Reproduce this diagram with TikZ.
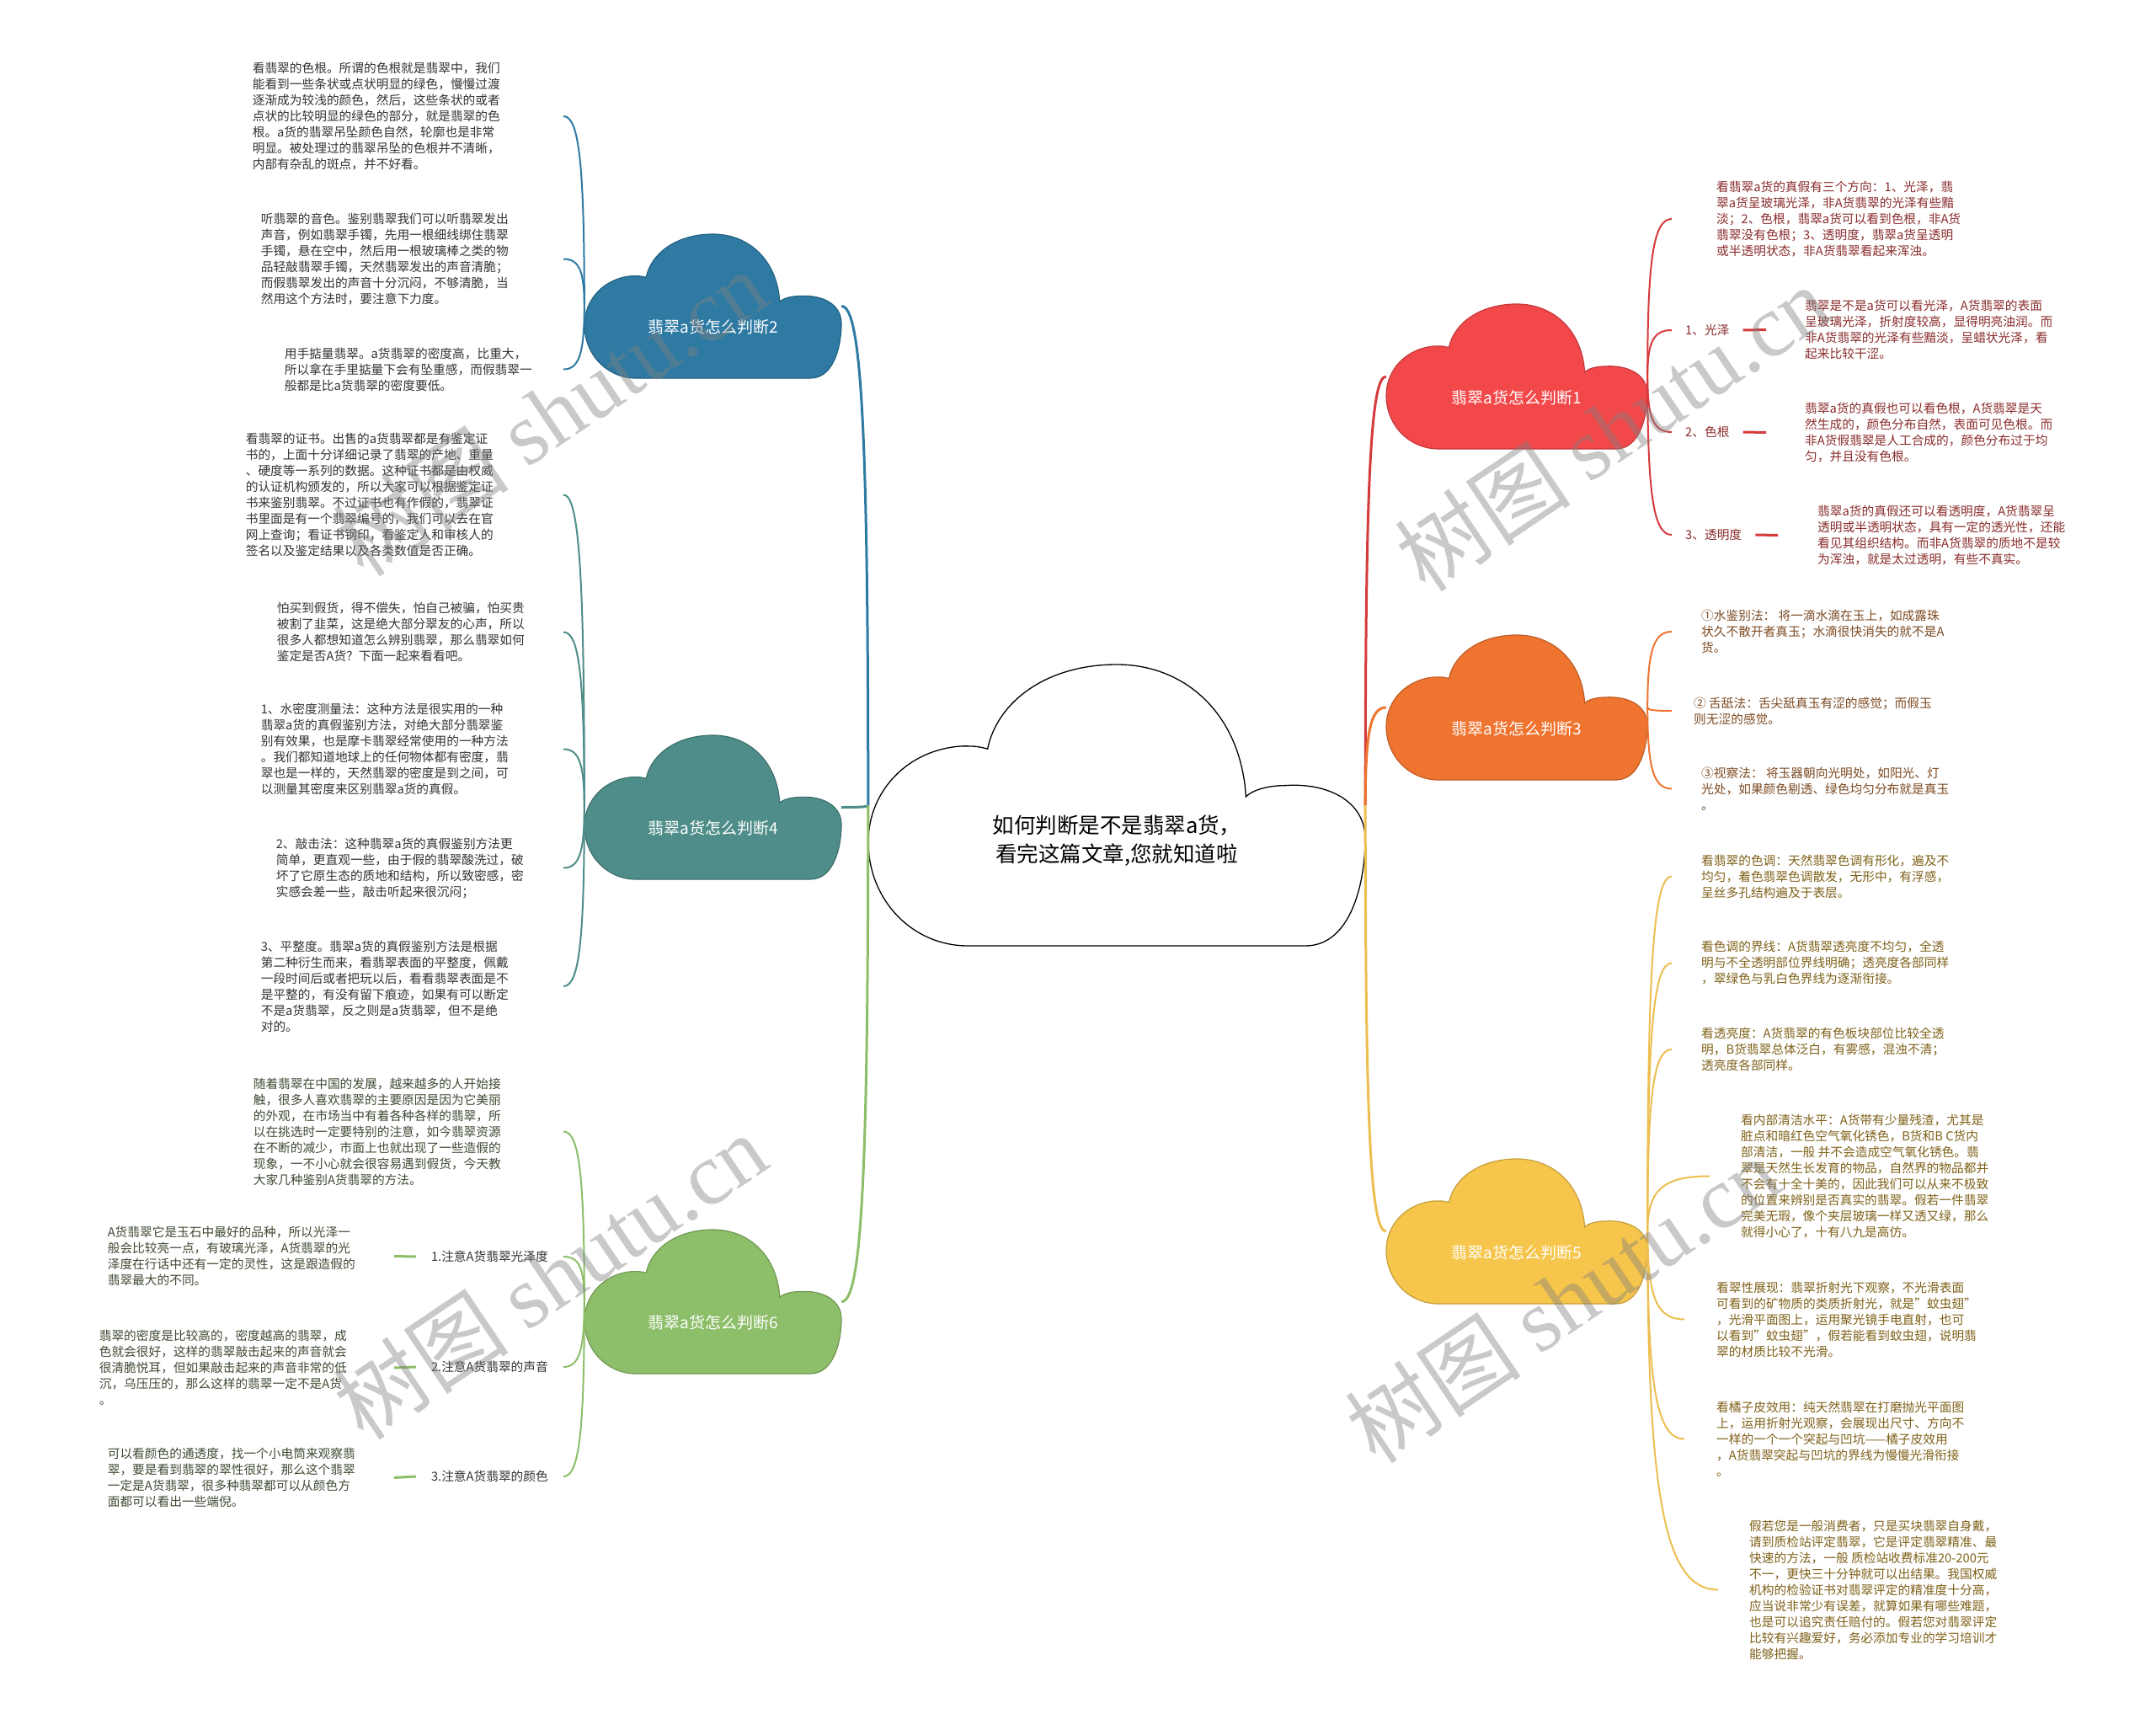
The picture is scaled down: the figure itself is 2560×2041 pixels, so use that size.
\documentclass[tikz,border=0pt]{standalone}
\usepackage{fontspec}
\setmainfont{Noto Sans CJK SC}
\newfontfamily\wmlatin{Liberation Serif}
\usetikzlibrary{calc}

\definecolor{blueC}{HTML}{2E7AA3}
\definecolor{tealC}{HTML}{4E8D89}
\definecolor{greenC}{HTML}{8DBE69}
\definecolor{redC}{HTML}{F2484A}
\definecolor{redL}{HTML}{D53A3C}
\definecolor{orangeC}{HTML}{EF7430}
\definecolor{yellowC}{HTML}{F6C54B}
\definecolor{yellowL}{HTML}{EDBE50}
\definecolor{darkT}{HTML}{333333}
\definecolor{greenT}{HTML}{3F4A33}
\definecolor{redT}{HTML}{8A2C2C}
\definecolor{orangeT}{HTML}{7C4A22}
\definecolor{yellowT}{HTML}{7F6119}

% cloud outline, drawn in a unit box: x0, y0 (top left), width, height, style
\newcommand\cloudpath[5]{%
  \path[#5,shift={(#1,#2)},xscale=#3,yscale=#4]
    (0.20,1) -- (0.88,1) .. controls (0.97,1) and (1,0.78) .. (1,0.62)
    .. controls (1,0.48) and (0.92,0.42) .. (0.84,0.43)
    .. controls (0.80,0.43) and (0.77,0.45) .. (0.76,0.47)
    .. controls (0.75,0.18) and (0.64,0) .. (0.50,0)
    .. controls (0.36,0) and (0.26,0.13) .. (0.24,0.30)
    .. controls (0.22,0.29) and (0.21,0.29) .. (0.19,0.29)
    .. controls (0.08,0.30) and (0,0.45) .. (0,0.63)
    .. controls (0,0.84) and (0.09,1) .. (0.20,1) -- cycle;}

\tikzset{
  cloud/.style={fill=#1,draw=#1!80!black,line width=1.2pt},
  frame/.style 2 args={inner sep=0pt,minimum width=#1pt,minimum height=#2pt},
  cloudtext/.style={text=white,font=\fontsize{19}{22}\selectfont},
  leaf/.style={inner sep=0pt,align=left,font=\fontsize{14.7}{19}\selectfont},
  leafL/.style={leaf,anchor=east},
  leafR/.style={leaf,anchor=west},
  trunk/.style={draw=#1,line width=3pt},
  twig/.style={draw=#1,line width=2pt},
  dashbar/.style={draw=#1,line width=3pt},
  elbow/.style={to path={.. controls ($(\tikztostart)!0.75!(\tikztostart|-\tikztotarget)$)
      and ($(\tikztotarget)!0.75!(\tikztostart|-\tikztotarget)$) .. (\tikztotarget)}},
  wm/.style={rotate=34,text=black!50,opacity=0.42,font=\fontsize{105}{110}\selectfont},
}

\begin{document}
\begin{tikzpicture}[x=1pt,y=-1pt]
  \useasboundingbox (0,0) rectangle (2560,2041);
  \fill[white] (0,0) rectangle (2560,2041);

  % centre cloud
  \cloudpath{1031}{789}{590}{334}{fill=white,draw=black,line width=1.3pt}
  \node[frame={590}{334}] (root) at (1326,956) {};
  \node[align=center,font=\fontsize{25.5}{34}\selectfont] at ([yshift=-42pt]root.center)
       {如何判断是不是翡翠a货，\\看完这篇文章,您就知道啦};

  % main clouds, left
  \cloudpath{694}{278}{305}{171}{cloud=blueC}
  \node[frame={305}{171}] (c2) at (846.5,363.5) {};
  \cloudpath{694}{873}{305}{171}{cloud=tealC}
  \node[frame={305}{171}] (c4) at (846.5,958.5) {};
  \cloudpath{694}{1460}{305}{171}{cloud=greenC}
  \node[frame={305}{171}] (c6) at (846.5,1545.5) {};
  % main clouds, right
  \cloudpath{1646}{361}{310}{172}{cloud=redC}
  \node[frame={310}{172}] (c1) at (1801,447) {};
  \cloudpath{1646}{754}{310}{172}{cloud=orangeC}
  \node[frame={310}{172}] (c3) at (1801,840) {};
  \cloudpath{1646}{1376}{310}{172}{cloud=yellowC}
  \node[frame={310}{172}] (c5) at (1801,1462) {};
  \foreach \c/\k in {c1/1,c2/2,c3/3,c4/4,c5/5,c6/6}{
    \node[cloudtext] at ([yshift=-25pt]\c.center) {翡翠a货怎么判断\k};
  }

  % branch 2
  \node[leafL,text=darkT,text width=369pt] (a1) at (669,138) {看翡翠的色根。所谓的色根就是翡翠中，我们\\能看到一些条状或点状明显的绿色，慢慢过渡\\逐渐成为较浅的颜色，然后，这些条状的或者\\点状的比较明显的绿色的部分，就是翡翠的色\\根。a货的翡翠吊坠颜色自然，轮廓也是非常\\明显。被处理过的翡翠吊坠的色根并不清晰，\\内部有杂乱的斑点，并不好看。};
  \node[leafL,text=darkT,text width=359pt] (a2) at (669,307.5) {听翡翠的音色。鉴别翡翠我们可以听翡翠发出\\声音，例如翡翠手镯，先用一根细线绑住翡翠\\手镯，悬在空中，然后用一根玻璃棒之类的物\\品轻敲翡翠手镯，天然翡翠发出的声音清脆；\\而假翡翠发出的声音十分沉闷，不够清脆，当\\然用这个方法时，要注意下力度。};
  \node[leafL,text=darkT,text width=331pt] (a3) at (669,438.5) {用手掂量翡翠。a货翡翠的密度高，比重大，\\所以拿在手里掂量下会有坠重感，而假翡翠一\\般都是比a货翡翠的密度要低。};

  % branch 4
  \node[leafL,text=darkT,text width=377pt] (b1) at (669,587.5) {看翡翠的证书。出售的a货翡翠都是有鉴定证\\书的，上面十分详细记录了翡翠的产地、重量\\、硬度等一系列的数据。这种证书都是由权威\\的认证机构颁发的，所以大家可以根据鉴定证\\书来鉴别翡翠。不过证书也有作假的，翡翠证\\书里面是有一个翡翠编号的，我们可以去在官\\网上查询；看证书钢印，看鉴定人和审核人的\\签名以及鉴定结果以及各类数值是否正确。};
  \node[leafL,text=darkT,text width=340pt] (b2) at (669,750.5) {怕买到假货，得不偿失，怕自己被骗，怕买贵\\被割了韭菜，这是绝大部分翠友的心声，所以\\很多人都想知道怎么辨别翡翠，那么翡翠如何\\鉴定是否A货？下面一起来看看吧。};
  \node[leafL,text=darkT,text width=359pt] (b3) at (669,889.5) {1、水密度测量法：这种方法是很实用的一种\\翡翠a货的真假鉴别方法，对绝大部分翡翠鉴\\别有效果，也是摩卡翡翠经常使用的一种方法\\。我们都知道地球上的任何物体都有密度，翡\\翠也是一样的，天然翡翠的密度是到之间，可\\以测量其密度来区别翡翠a货的真假。};
  \node[leafL,text=darkT,text width=341pt] (b4) at (669,1030.5) {2、敲击法：这种翡翠a货的真假鉴别方法更\\简单，更直观一些，由于假的翡翠酸洗过，破\\坏了它原生态的质地和结构，所以致密感，密\\实感会差一些，敲击听起来很沉闷；};
  \node[leafL,text=darkT,text width=359pt] (b5) at (669,1171) {3、平整度。翡翠a货的真假鉴别方法是根据\\第二种衍生而来，看翡翠表面的平整度，佩戴\\一段时间后或者把玩以后，看看翡翠表面是不\\是平整的，有没有留下痕迹，如果有可以断定\\不是a货翡翠，反之则是a货翡翠，但不是绝\\对的。};

  % branch 6
  \node[leafL,text=greenT,text width=368pt] (d0) at (669,1343.5) {随着翡翠在中国的发展，越来越多的人开始接\\触，很多人喜欢翡翠的主要原因是因为它美丽\\的外观，在市场当中有着各种各样的翡翠，所\\以在挑选时一定要特别的注意，如今翡翠资源\\在不断的减少，市面上也就出现了一些造假的\\现象，一不小心就会很容易遇到假货，今天教\\大家几种鉴别A货翡翠的方法。};
  \node[leafL,text=darkT,inner xsep=18pt] (d1) at (669,1492) {1.注意A货翡翠光泽度};
  \node[leafL,text=darkT,inner xsep=18pt] (d2) at (669,1623) {2.注意A货翡翠的声音};
  \node[leafL,text=darkT,inner xsep=18pt] (d3) at (669,1753) {3.注意A货翡翠的颜色};
  \node[leafL,text=greenT,text width=340pt] (e1) at (468,1491.5) {A货翡翠它是玉石中最好的品种，所以光泽一\\般会比较亮一点，有玻璃光泽，A货翡翠的光\\泽度在行话中还有一定的灵性，这是跟造假的\\翡翠最大的不同。};
  \node[leafL,text=greenT,text width=350pt] (e2) at (468,1624) {翡翠的密度是比较高的，密度越高的翡翠，成\\色就会很好，这样的翡翠敲击起来的声音就会\\很清脆悦耳，但如果敲击起来的声音非常的低\\沉，乌压压的，那么这样的翡翠一定不是A货\\。};
  \node[leafL,text=greenT,text width=340pt] (e3) at (468,1754.5) {可以看颜色的通透度，找一个小电筒来观察翡\\翠，要是看到翡翠的翠性很好，那么这个翡翠\\一定是A货翡翠，很多种翡翠都可以从颜色方\\面都可以看出一些端倪。};

  % branch 1
  \node[leafR,text=redT,inner xsep=53pt] (r0) at (1985,260) {看翡翠a货的真假有三个方向：1、光泽，翡\\翠a货呈玻璃光泽，非A货翡翠的光泽有些黯\\淡；2、色根，翡翠a货可以看到色根，非A货\\翡翠没有色根；3、透明度，翡翠a货呈透明\\或半透明状态，非A货翡翠看起来浑浊。};
  \node[leafR,text=redT,inner xsep=16pt] (r1) at (1985,392) {1、光泽};
  \node[leafR,text=redT,inner xsep=16pt] (r2) at (1985,513) {2、色根};
  \node[leafR,text=redT,inner xsep=16pt] (r3) at (1985,635) {3、透明度};
  \node[leafR,text=redT,inner xsep=46pt] (r1t) at (2097,391.5) {翡翠是不是a货可以看光泽，A货翡翠的表面\\呈玻璃光泽，折射度较高，显得明亮油润。而\\非A货翡翠的光泽有些黯淡，呈蜡状光泽，看\\起来比较干涩。};
  \node[leafR,text=redT,inner xsep=46pt] (r2t) at (2097,513.5) {翡翠a货的真假也可以看色根，A货翡翠是天\\然生成的，颜色分布自然，表面可见色根。而\\非A货假翡翠是人工合成的，颜色分布过于均\\匀，并且没有色根。};
  \node[leafR,text=redT,inner xsep=47pt] (r3t) at (2111,635.5) {翡翠a货的真假还可以看透明度，A货翡翠呈\\透明或半透明状态，具有一定的透光性，还能\\看见其组织结构。而非A货翡翠的质地不是较\\为浑浊，就是太过透明，有些不真实。};

  % branch 3
  \node[leafR,text=orangeT,inner xsep=35pt] (o1) at (1985,750) {①水鉴别法： 将一滴水滴在玉上，如成露珠\\状久不散开者真玉；水滴很快消失的就不是A\\货。};
  \node[leafR,text=orangeT,inner xsep=26pt] (o2) at (1985,844) {② 舌舐法：舌尖舐真玉有涩的感觉；而假玉\\则无涩的感觉。};
  \node[leafR,text=orangeT,inner xsep=35pt] (o3) at (1985,936.5) {③视察法： 将玉器朝向光明处，如阳光、灯\\光处，如果颜色剔透、绿色均匀分布就是真玉\\。};

  % branch 5
  \node[leafR,text=yellowT,inner xsep=35pt] (y1) at (1985,1040.5) {看翡翠的色调：天然翡翠色调有形化，遍及不\\均匀，着色翡翠色调散发，无形中，有浮感，\\呈丝多孔结构遍及于表层。};
  \node[leafR,text=yellowT,inner xsep=35pt] (y2) at (1985,1143.5) {看色调的界线：A货翡翠透亮度不均匀，全透\\明与不全透明部位界线明确；透亮度各部同样\\，翠绿色与乳白色界线为逐渐衔接。};
  \node[leafR,text=yellowT,inner xsep=35pt] (y3) at (1985,1246) {看透亮度：A货翡翠的有色板块部位比较全透\\明，B货翡翠总体泛白，有雾感，混浊不清；\\透亮度各部同样。};
  \node[leafR,text=yellowT,inner xsep=37pt] (y4) at (2030,1396.5) {看内部清洁水平：A货带有少量残渣，尤其是\\脏点和暗红色空气氧化锈色，B货和B C货内\\部清洁，一般 并不会造成空气氧化锈色。翡\\翠是天然生长发育的物品，自然界的物品都并\\不会有十全十美的，因此我们可以从来不极致\\的位置来辨别是否真实的翡翠。假若一件翡翠\\完美无瑕，像个夹层玻璃一样又透又绿，那么\\就得小心了，十有八九是高仿。};
  \node[leafR,text=yellowT,inner xsep=38pt] (y5) at (2000,1566.5) {看翠性展现：翡翠折射光下观察，不光滑表面\\可看到的矿物质的类质折射光，就是"蚊虫翅"\\，光滑平面图上，运用聚光镜手电直射，也可\\以看到"蚊虫翅"，假若能看到蚊虫翅，说明翡\\翠的材质比较不光滑。};
  \node[leafR,text=yellowT,inner xsep=38pt] (y6) at (2000,1708.5) {看橘子皮效用：纯天然翡翠在打磨抛光平面图\\上，运用折射光观察，会展现出尺寸、方向不\\一样的一个一个突起与凹坑——橘子皮效用\\，A货翡翠突起与凹坑的界线为慢慢光滑衔接\\。};
  \node[leafR,text=yellowT,inner xsep=37pt] (y7) at (2040,1887.5) {假若您是一般消费者，只是买块翡翠自身戴，\\请到质检站评定翡翠，它是评定翡翠精准、最\\快速的方法，一般 质检站收费标准20-200元\\不一，更快三十分钟就可以出结果。我国权威\\机构的检验证书对翡翠评定的精准度十分高，\\应当说非常少有误差，就算如果有哪些难题，\\也是可以追究责任赔付的。假若您对翡翠评定\\比较有兴趣爱好，务必添加专业的学习培训才\\能够把握。};

  % connectors
  \draw[trunk=blueC] (root.west) to[elbow] (c2.east);
  \draw[trunk=tealC] (root.west) to[elbow] (c4.east);
  \draw[trunk=greenC] (root.west) to[elbow] (c6.east);
  \draw[trunk=redL] (root.east) to[elbow] (c1.west);
  \draw[trunk=orangeC] (root.east) to[elbow] (c3.west);
  \draw[trunk=yellowL] (root.east) to[elbow] (c5.west);
  \foreach \t in {a1,a2,a3} \draw[twig=blueC] (c2.west) to[elbow] (\t.east);
  \foreach \t in {b1,b2,b3,b4,b5} \draw[twig=tealC] (c4.west) to[elbow] (\t.east);
  \foreach \t in {d0,d1,d2,d3} \draw[twig=greenC] (c6.west) to[elbow] (\t.east);
  \foreach \t in {r0,r1,r2,r3} \draw[twig=redL] (c1.east) to[elbow] (\t.west);
  \foreach \t in {o1,o2,o3} \draw[twig=orangeC] (c3.east) to[elbow] (\t.west);
  \foreach \t in {y1,y2,y3,y4,y5,y6,y7} \draw[twig=yellowL] (c5.east) to[elbow] (\t.west);
  \foreach \a/\b in {d1/e1,d2/e2,d3/e3} \draw[dashbar=greenC] (\a.west) -- (\b.east);
  \foreach \a/\b in {r1/r1t,r2/r2t,r3/r3t} \draw[dashbar=redL] (\a.east) -- (\b.west);

  % watermarks
  \foreach \p/\q in {653/490,653/1515,1914/508,1855/1543}{
    \node[wm] (wm\p) at (\p,\q) {树图 {\wmlatin shutu.cn}};
  }
\end{tikzpicture}
\end{document}
